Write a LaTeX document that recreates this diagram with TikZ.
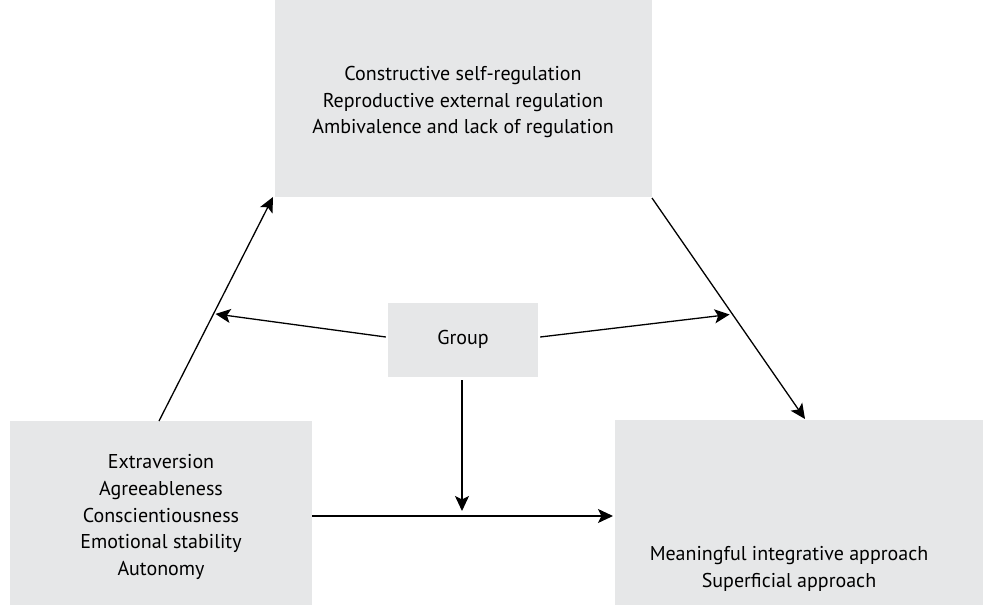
\documentclass[tikz,border=0pt]{standalone}
\usepackage{fontspec}
\setmainfont{PT Sans}
\usetikzlibrary{arrows.meta,calc}
\definecolor{boxgray}{HTML}{E6E7E8}
\tikzset{
  panel/.style={fill=boxgray, draw=none, inner sep=0pt},
  caption/.style={align=center, font=\fontsize{20}{26.6}\selectfont, inner sep=0pt},
  link/.style={line width=1.3pt, -{Stealth[length=15pt,width=14pt,inset=3.5pt]}},
}
\begin{document}
\begin{tikzpicture}[x=1pt,y=-1pt]
  \useasboundingbox (0,0) rectangle (983,605);
  % boxes
  \node[panel, minimum width=377pt, minimum height=197pt] (reg) at (463,98.5) {};
  \node[panel, minimum width=150pt, minimum height=74pt] (grp) at (463,340) {};
  \node[panel, minimum width=302pt, minimum height=184pt] (pers) at (161,513) {};
  \node[panel, minimum width=368pt, minimum height=185pt] (appr) at (799,512.5) {};
  % texts
  \node[caption] (regtxt) at (463,102) {Constructive self-regulation\\Reproductive external regulation\\Ambivalence and lack of regulation};
  \node[caption] (grptxt) at (463,339) {Group};
  \node[caption] (perstxt) at (161,517) {Extraversion\\Agreeableness\\Conscientiousness\\Emotional stability\\Autonomy};
  \node[caption] (apprtxt) at (789,569) {Meaningful integrative approach\\Superficial approach};
  % connector end points
  \coordinate (p1) at (159,421);
  \coordinate (p2) at (273,197);
  \coordinate (q1) at (652,198);
  \coordinate (q2) at (805,419);
  \coordinate (m1) at ($(p1)!0.478!(p2)$);
  \coordinate (m2) at ($(q1)!0.527!(q2)$);
  \coordinate (h1) at (312,516);
  \coordinate (h2) at (613,516);
  \coordinate (hm) at (462,516);
  % connectors
  \draw[link] (p1) -- (p2);
  \draw[link] (q1) -- (q2);
  \draw[link] (h1) -- (h2);
  \draw[link] (grp.west) ++(-2,-3) coordinate (g1) -- ($(m1)+(2,0)$);
  \draw[link] (grp.east) ++(2,-3) coordinate (g2) -- ($(m2)+(-3,0)$);
  \draw[link] ($(grp.south)+(-1,3)$) -- ($(hm)+(0,-5)$);
\end{tikzpicture}
\end{document}
